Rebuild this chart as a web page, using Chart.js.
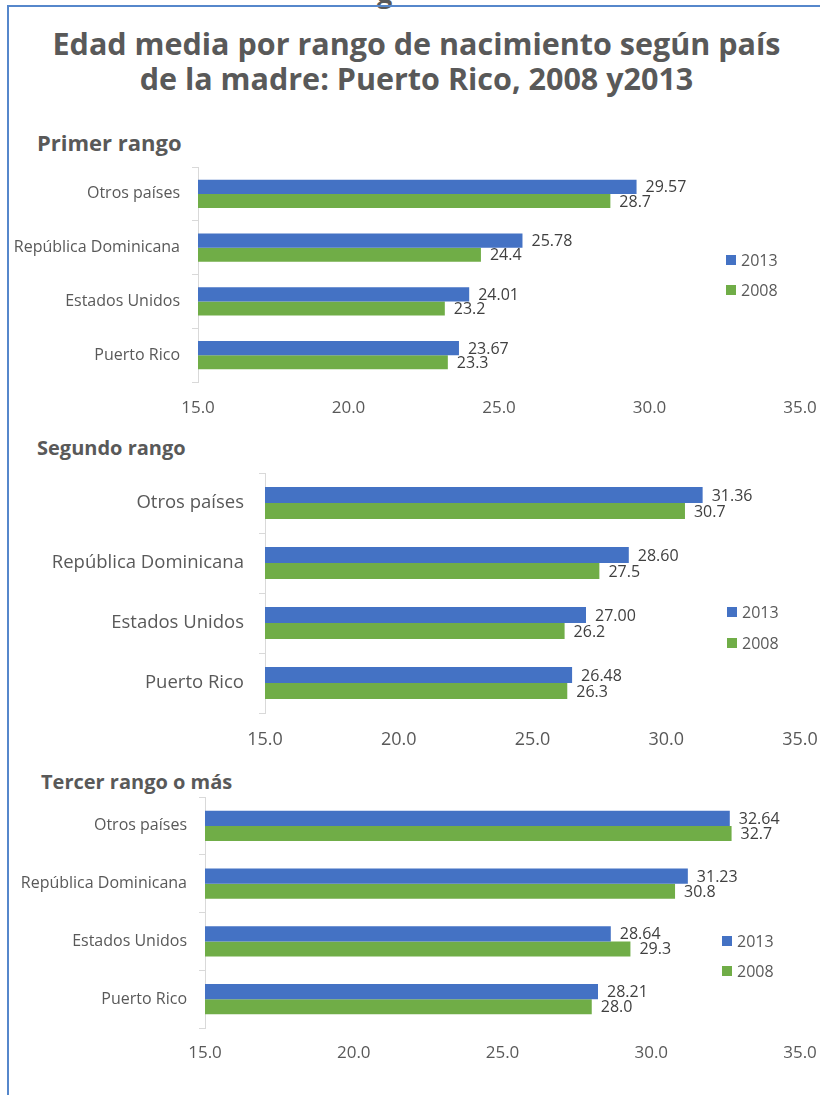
<!DOCTYPE html>
<html>
<head>
<meta charset="utf-8">
<script src="https://cdn.jsdelivr.net/npm/chart.js@4.4.1/dist/chart.umd.min.js"></script>
<style>
  body { margin: 0; width: 820px; height: 1095px; background: #fff; overflow: hidden; position: relative; font-family: "Open Sans", sans-serif; }
  #frame { position: absolute; left: 7px; top: 5px; width: 840px; height: 1200px; border-top: 2px solid #5687cb; border-left: 2px solid #5687cb; }
  #cut { position: absolute; left: 377px; top: -26px; font: bold 27px "Open Sans"; color: #595959; }
  #title { position: absolute; left: 7px; width: 819px; top: 26px; text-align: center; font: bold 30.5px/35px "Open Sans"; color: #595959; }
  .sub { position: absolute; font-weight: bold; color: #595959; white-space: nowrap; }
  canvas { position: absolute; left: 0; }
</style>
</head>
<body>
<div id="cut">g</div>
<div id="frame"></div>
<div id="title">Edad media por rango de nacimiento según país<br>de la madre: Puerto Rico, 2008 y2013</div>
<div class="sub" style="left:37px;top:127px;font-size:22px">Primer rango</div>
<div class="sub" style="left:37px;top:434px;font-size:20px">Segundo rango</div>
<div class="sub" style="left:41px;top:768px;font-size:20px">Tercer rango o más</div>
<canvas id="c1" style="top:160px" width="820" height="265"></canvas>
<canvas id="c2" style="top:465px" width="820" height="300"></canvas>
<canvas id="c3" style="top:790px" width="820" height="290"></canvas>
<script>
let paises = ['Otros países', 'República Dominicana', 'Estados Unidos', 'Puerto Rico']
let ticksX = [15, 20, 25, 30, 35]

let primer2013 = [29.57, 25.78, 24.01, 23.67]
let primer2008 = [28.7, 24.4, 23.2, 23.3]
let segundo2013 = [31.36, 28.60, 27.00, 26.48]
let segundo2008 = [30.7, 27.5, 26.2, 26.3]
let tercer2013 = [32.64, 31.23, 28.64, 28.21]
let tercer2008 = [32.7, 30.8, 29.3, 28.0]

let azul = '#4472c4'
let verde = '#70ad47'

// etiquetas al final de cada barra
let etiquetas = {
    id: 'etiquetas',
    afterDatasetsDraw(chart, args, opts) {
        let ctx = chart.ctx
        ctx.save()
        ctx.font = opts.size + 'px "Open Sans"'
        ctx.fillStyle = '#404040'
        ctx.textBaseline = 'middle'
        ctx.textAlign = 'left'
        chart.data.datasets.forEach((ds, i) => {
            chart.getDatasetMeta(i).data.forEach((bar, j) => {
                let v = ds.data[j]
                ctx.fillText(v.toFixed(ds.dec), bar.x + 9, bar.y + 1)
            })
        })
        ctx.restore()
    }
}

// leyenda dentro del area
let leyenda = {
    id: 'leyenda',
    afterDraw(chart, args, opts) {
        let ctx = chart.ctx
        ctx.save()
        ctx.font = '16px "Open Sans"'
        ctx.textBaseline = 'middle'
        chart.data.datasets.forEach((ds, i) => {
            let y = opts.y + i * opts.gap
            ctx.fillStyle = ds.backgroundColor
            ctx.fillRect(opts.x, y - 5, 10, 10)
            ctx.fillStyle = '#595959'
            ctx.fillText(ds.label, opts.x + 15, y + 1)
        })
        ctx.restore()
    }
}

function sinRelleno(s) {
    s.paddingTop = 0
    s.paddingBottom = 0
    s.paddingLeft = 0
    s.paddingRight = 0
}

function grafico(id, d2013, d2008, o) {
    new Chart(id, {
        type: 'bar',
        data: {
            labels: paises,
            datasets: [
                { label: '2013', data: d2013, backgroundColor: azul, dec: 2 },
                { label: '2008', data: d2008, backgroundColor: verde, dec: 1 }
            ]
        },
        options: {
            indexAxis: 'y',
            responsive: false,
            animation: false,
            categoryPercentage: o.cat,
            barPercentage: 1,
            layout: { padding: { top: o.top, right: 20, left: 0, bottom: 0 } },
            scales: {
                x: {
                    min: 15, max: 35,
                    afterBuildTicks: s => { s.ticks = ticksX.map(v => ({ value: v })) },
                    afterFit: s => { s.height = o.xh; sinRelleno(s) },
                    grid: { display: false, drawTicks: false },
                    border: { display: false },
                    ticks: {
                        padding: o.xpad,
                        color: '#595959',
                        font: { family: 'Open Sans', size: o.xsize },
                        callback: v => v.toFixed(1)
                    }
                },
                y: {
                    afterFit: s => { s.width = o.axis; sinRelleno(s) },
                    grid: { offset: true, drawOnChartArea: false, tickLength: 6, color: '#d9d9d9' },
                    border: { color: '#d9d9d9' },
                    ticks: {
                        padding: o.ypad,
                        color: '#595959',
                        font: { family: 'Open Sans', size: o.ysize }
                    }
                }
            },
            plugins: {
                legend: { display: false },
                tooltip: { enabled: false },
                etiquetas: { size: 16 },
                leyenda: { x: o.lx, y: o.ly, gap: o.lgap }
            }
        },
        plugins: [etiquetas, leyenda]
    })
}

grafico('c1', primer2013, primer2008, { top: 7, xh: 43, axis: 198, cat: 0.53, xpad: 16, xsize: 17, ypad: 12, ysize: 16, lx: 726, ly: 100, lgap: 30 })
grafico('c2', segundo2013, segundo2008, { top: 8, xh: 52, axis: 265, cat: 0.53, xpad: 16, xsize: 18, ypad: 15, ysize: 18.5, lx: 727, ly: 147, lgap: 31 })
grafico('c3', tercer2013, tercer2008, { top: 7, xh: 52, axis: 205, cat: 0.52, xpad: 15, xsize: 17, ypad: 12, ysize: 16, lx: 722, ly: 151, lgap: 30 })
</script>
</body>
</html>
